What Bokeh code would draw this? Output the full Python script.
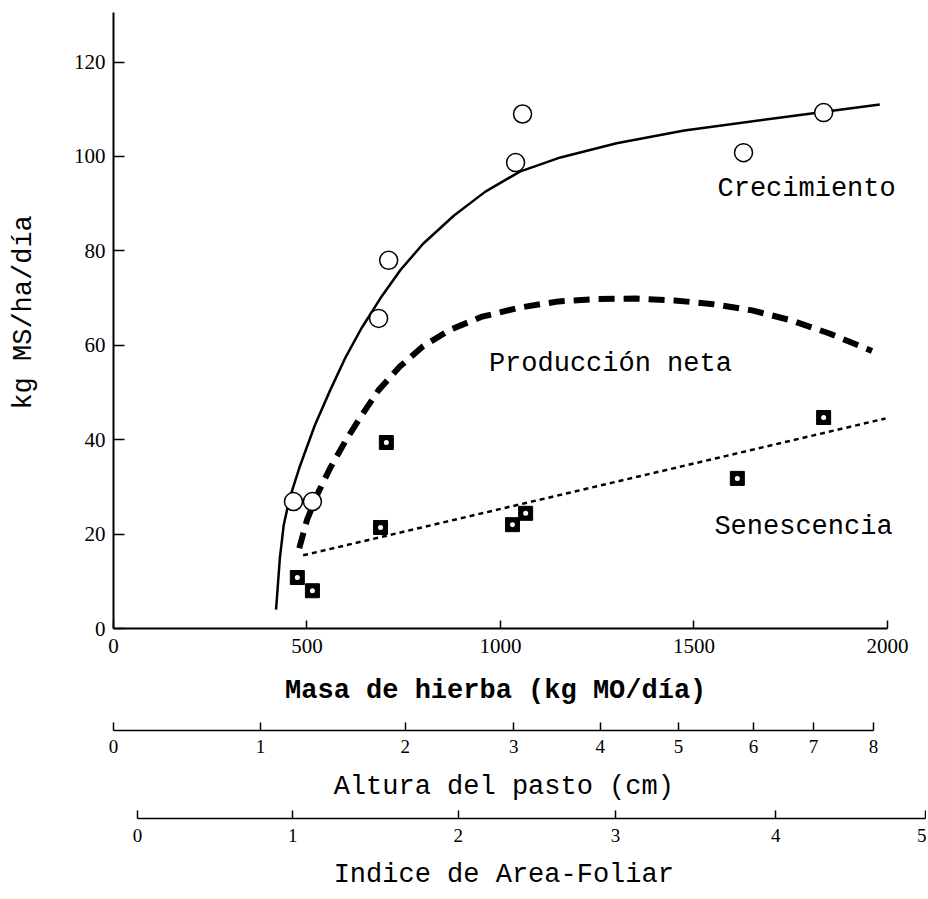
from bokeh.plotting import figure
from bokeh.models import Range1d, LinearAxis, FixedTicker, Label
from bokeh.embed import file_html
from bokeh.resources import INLINE

# ---- data ----
# Crecimiento (open circles) : masa de hierba (kg MO) vs kg MS/ha/dia
crec_x = [465, 514, 685, 711, 1039, 1057, 1628, 1835]
crec_y = [26.9, 26.9, 65.7, 78.0, 98.7, 109.0, 100.8, 109.3]
# Senescencia (filled squares)
sen_x = [475, 514, 690, 705, 1031, 1065, 1612, 1835]
sen_y = [10.8, 8.0, 21.4, 39.4, 22.0, 24.4, 31.8, 44.7]
# fitted curves
crec_fit_x = [420, 430, 440, 455, 480, 520, 560, 600, 640, 690, 742, 800, 880, 960,
              1050, 1155, 1300, 1475, 1730, 1980]
crec_fit_y = [4.0, 15.0, 22.0, 27.5, 34.0, 43.0, 50.5, 57.5, 63.5, 70.0, 76.0, 81.5, 87.5, 92.5,
              96.8, 99.8, 102.8, 105.5, 108.3, 111.0]
prod_fit_x = [480, 500, 530, 560, 600, 640, 685, 740, 800, 870, 950, 1050, 1150, 1250, 1350,
              1450, 1550, 1650, 1750, 1850, 1960]
prod_fit_y = [17.0, 23.0, 29.0, 34.0, 39.8, 45.0, 50.5, 55.5, 59.8, 63.3, 66.0, 68.0, 69.3, 69.8, 69.9,
              69.5, 68.7, 67.4, 65.3, 62.5, 58.8]
sen_fit_x = [490, 1995]
sen_fit_y = [15.5, 44.5]

# axes ticks
x_ticks = [0, 500, 1000, 1500, 2000]
y_ticks = [0, 20, 40, 60, 80, 100, 120]
# secondary scales: tick positions expressed in masa de hierba units
altura_pos = [0, 380, 754, 1034, 1258, 1460, 1654, 1809, 1964]
altura_lab = ["0", "1", "2", "3", "4", "5", "6", "7", "8"]
iaf_pos = [62, 463, 891, 1297, 1711, 2098]
iaf_lab = ["0", "1", "2", "3", "4", "5"]

MONO = "Liberation Mono"
SERIF = "Liberation Serif"
NB = "\u00a0"

p = figure(frame_width=813, frame_height=616,
           x_range=Range1d(0, 2100.8), y_range=Range1d(0, 130.5),
           output_backend="svg", toolbar_location=None,
           min_border_left=113, min_border_right=0,
           min_border_top=12, min_border_bottom=0)
p.grid.visible = False
p.outline_line_color = None
p.background_fill_color = "white"

# main x axis
xa = p.xaxis[0]
xa.ticker = FixedTicker(ticks=x_ticks)
xa.bounds = (0, 2000)
xa.axis_line_width = 2
xa.axis_line_color = "black"
xa.major_tick_in = 8
xa.major_tick_out = 0
xa.minor_tick_line_color = None
xa.major_tick_line_width = 1.5
xa.major_tick_line_color = "black"
xa.major_label_text_font = SERIF
xa.major_label_text_font_size = "21px"
xa.major_label_text_color = "black"
xa.major_label_standoff = 10
xa.axis_label = "Masa de hierba (kg MO/día)" + NB * 3
xa.axis_label_text_font = MONO
xa.axis_label_text_font_size = "27px"
xa.axis_label_text_font_style = "bold"
xa.axis_label_text_color = "black"
xa.axis_label_standoff = 20

# y axis
ya = p.yaxis[0]
ya.ticker = FixedTicker(ticks=y_ticks)
ya.axis_line_width = 2
ya.axis_line_color = "black"
ya.major_tick_in = 11
ya.major_tick_out = 0
ya.major_tick_line_width = 1.5
ya.major_tick_line_color = "black"
ya.minor_tick_line_color = None
ya.major_label_text_font = SERIF
ya.major_label_text_font_size = "21px"
ya.major_label_text_color = "black"
ya.major_label_standoff = 8
ya.axis_label = NB + "kg MS/ha/día"
ya.axis_label_text_font = MONO
ya.axis_label_text_font_size = "27px"
ya.axis_label_text_font_style = "normal"
ya.axis_label_text_color = "black"
ya.axis_label_standoff = 32


def spacer(h):
    # an axis with no visible parts, used only to open vertical space
    return LinearAxis(ticker=FixedTicker(ticks=[100], minor_ticks=[]),
                      axis_line_color=None, major_tick_out=h, major_tick_in=0,
                      major_tick_line_color="white", minor_tick_out=0, minor_tick_in=0,
                      major_label_overrides={100: ""}, major_label_text_font_size="1px",
                      major_label_standoff=0, axis_label=None)


def scale_axis(pos, labs, lab_standoff, title, title_standoff):
    return LinearAxis(ticker=FixedTicker(ticks=pos, minor_ticks=[]),
                      bounds=(pos[0], pos[-1]),
                      major_label_overrides={k: v for k, v in zip(pos, labs)},
                      axis_line_width=1.5, axis_line_color="black",
                      major_tick_in=8, major_tick_out=0,
                      major_tick_line_width=1.5, major_tick_line_color="black",
                      minor_tick_line_color=None,
                      major_label_text_font=SERIF, major_label_text_font_size="19px",
                      major_label_text_color="black",
                      major_label_standoff=lab_standoff,
                      axis_label=title, axis_label_text_font=MONO,
                      axis_label_text_font_size="27px", axis_label_text_font_style="normal",
                      axis_label_text_color="black",
                      axis_label_standoff=title_standoff)


p.add_layout(spacer(22), "below")
p.add_layout(scale_axis(altura_pos, altura_lab, 9, "Altura del pasto (cm)" + NB * 2, 16), "below")
p.add_layout(spacer(14), "below")
p.add_layout(scale_axis(iaf_pos, iaf_lab, 10, "Indice de Area-Foliar" + NB * 2, 15), "below")

# curves
p.line(crec_fit_x, crec_fit_y, line_color="black", line_width=2.5)
p.line(prod_fit_x, prod_fit_y, line_color="black", line_width=6, line_dash="16 9")
p.line(sen_fit_x, sen_fit_y, line_color="black", line_width=2.5, line_dash="5 4")

# points
p.scatter(crec_x, crec_y, marker="circle", size=18, fill_color="white",
          line_color="black", line_width=1.5)
p.scatter(sen_x, sen_y, marker="square", size=14, fill_color="black", line_color="black")
p.scatter(sen_x, sen_y, marker="circle", size=5, fill_color="white", line_color=None)

# curve labels
for txt, lx, ly in [("Crecimiento", 1791, 93.2),
                    ("Producción neta", 1284, 56.1),
                    ("Senescencia", 1783, 21.4)]:
    p.add_layout(Label(x=lx, y=ly, text=txt, text_align="center", text_baseline="middle",
                       text_font=MONO, text_font_size="27px", text_color="black"))

open("out.html", "w").write(file_html(p, INLINE))
